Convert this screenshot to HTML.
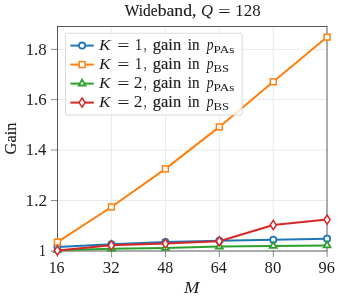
<!DOCTYPE html>
<html><head><meta charset="utf-8"><style>
html,body{margin:0;padding:0;background:#fff;}
body{width:340px;height:298px;overflow:hidden;}
svg{display:block;}
text{font-family:"Liberation Serif",serif;fill:#1c1c1c;}
</style></head><body>
<div style="will-change:transform;width:340px;height:298px;background:#fff">
<svg width="340" height="298" viewBox="0 0 340 298">
<rect width="340" height="298" fill="#fff"/>
<g stroke="#e4e4e4" stroke-width="0.8"><line x1="111.40" y1="26.5" x2="111.40" y2="251.0"/><line x1="165.40" y1="26.5" x2="165.40" y2="251.0"/><line x1="219.35" y1="26.5" x2="219.35" y2="251.0"/><line x1="273.25" y1="26.5" x2="273.25" y2="251.0"/><line x1="57.5" y1="200.50" x2="327.0" y2="200.50"/><line x1="57.5" y1="150.00" x2="327.0" y2="150.00"/><line x1="57.5" y1="99.60" x2="327.0" y2="99.60"/><line x1="57.5" y1="49.35" x2="327.0" y2="49.35"/></g>
<g stroke="#303030" stroke-width="0.55"><line x1="57.40" y1="251.0" x2="57.40" y2="257.0"/><line x1="111.40" y1="251.0" x2="111.40" y2="257.0"/><line x1="165.40" y1="251.0" x2="165.40" y2="257.0"/><line x1="219.35" y1="251.0" x2="219.35" y2="257.0"/><line x1="273.25" y1="251.0" x2="273.25" y2="257.0"/><line x1="327.10" y1="251.0" x2="327.10" y2="257.0"/><line x1="51.0" y1="251.00" x2="57.5" y2="251.00"/><line x1="51.0" y1="200.50" x2="57.5" y2="200.50"/><line x1="51.0" y1="150.00" x2="57.5" y2="150.00"/><line x1="51.0" y1="99.60" x2="57.5" y2="99.60"/><line x1="51.0" y1="49.35" x2="57.5" y2="49.35"/></g>
<rect x="57.5" y="26.5" width="269.5" height="224.5" fill="none" stroke="#303030" stroke-width="0.8"/>
<polyline points="57.40,247.00 111.40,244.20 165.40,242.00 219.35,240.80 273.25,239.80 327.10,238.70" fill="none" stroke="#1f77b4" stroke-width="2.0" stroke-linejoin="round"/>
<circle cx="57.40" cy="247.00" r="3.1" fill="#fff" stroke="#1f77b4" stroke-width="1.8"/>
<circle cx="111.40" cy="244.20" r="3.1" fill="#fff" stroke="#1f77b4" stroke-width="1.8"/>
<circle cx="165.40" cy="242.00" r="3.1" fill="#fff" stroke="#1f77b4" stroke-width="1.8"/>
<circle cx="219.35" cy="240.80" r="3.1" fill="#fff" stroke="#1f77b4" stroke-width="1.8"/>
<circle cx="273.25" cy="239.80" r="3.1" fill="#fff" stroke="#1f77b4" stroke-width="1.8"/>
<circle cx="327.10" cy="238.70" r="3.1" fill="#fff" stroke="#1f77b4" stroke-width="1.8"/>
<polyline points="57.40,242.10 111.40,207.00 165.40,168.90 219.35,126.90 273.25,81.80 327.10,37.10" fill="none" stroke="#ff7f0e" stroke-width="2.0" stroke-linejoin="round"/>
<rect x="54.45" y="239.15" width="5.90" height="5.90" fill="#fff" stroke="#ff7f0e" stroke-width="1.5"/>
<rect x="108.45" y="204.05" width="5.90" height="5.90" fill="#fff" stroke="#ff7f0e" stroke-width="1.5"/>
<rect x="162.45" y="165.95" width="5.90" height="5.90" fill="#fff" stroke="#ff7f0e" stroke-width="1.5"/>
<rect x="216.40" y="123.95" width="5.90" height="5.90" fill="#fff" stroke="#ff7f0e" stroke-width="1.5"/>
<rect x="270.30" y="78.85" width="5.90" height="5.90" fill="#fff" stroke="#ff7f0e" stroke-width="1.5"/>
<rect x="324.15" y="34.15" width="5.90" height="5.90" fill="#fff" stroke="#ff7f0e" stroke-width="1.5"/>
<polyline points="57.40,250.30 111.40,248.80 165.40,247.90 219.35,246.60 273.25,246.00 327.10,245.40" fill="none" stroke="#2ca02c" stroke-width="2.0" stroke-linejoin="round"/>
<path d="M57.40 246.30 L60.80 252.20 L54.00 252.20 Z" fill="#fff" stroke="#2ca02c" stroke-width="1.8" stroke-linejoin="miter"/>
<path d="M111.40 244.80 L114.80 250.70 L108.00 250.70 Z" fill="#fff" stroke="#2ca02c" stroke-width="1.8" stroke-linejoin="miter"/>
<path d="M165.40 243.90 L168.80 249.80 L162.00 249.80 Z" fill="#fff" stroke="#2ca02c" stroke-width="1.8" stroke-linejoin="miter"/>
<path d="M219.35 242.60 L222.75 248.50 L215.95 248.50 Z" fill="#fff" stroke="#2ca02c" stroke-width="1.8" stroke-linejoin="miter"/>
<path d="M273.25 242.00 L276.65 247.90 L269.85 247.90 Z" fill="#fff" stroke="#2ca02c" stroke-width="1.8" stroke-linejoin="miter"/>
<path d="M327.10 241.40 L330.50 247.30 L323.70 247.30 Z" fill="#fff" stroke="#2ca02c" stroke-width="1.8" stroke-linejoin="miter"/>
<polyline points="57.40,250.60 111.40,245.30 165.40,243.60 219.35,241.20 273.25,225.00 327.10,219.60" fill="none" stroke="#d62728" stroke-width="2.0" stroke-linejoin="round"/>
<path d="M57.40 246.00 L60.45 250.60 L57.40 255.20 L54.35 250.60 Z" fill="#fff" stroke="#d62728" stroke-width="1.5" stroke-linejoin="miter"/>
<path d="M111.40 240.70 L114.45 245.30 L111.40 249.90 L108.35 245.30 Z" fill="#fff" stroke="#d62728" stroke-width="1.5" stroke-linejoin="miter"/>
<path d="M165.40 239.00 L168.45 243.60 L165.40 248.20 L162.35 243.60 Z" fill="#fff" stroke="#d62728" stroke-width="1.5" stroke-linejoin="miter"/>
<path d="M219.35 236.60 L222.40 241.20 L219.35 245.80 L216.30 241.20 Z" fill="#fff" stroke="#d62728" stroke-width="1.5" stroke-linejoin="miter"/>
<path d="M273.25 220.40 L276.30 225.00 L273.25 229.60 L270.20 225.00 Z" fill="#fff" stroke="#d62728" stroke-width="1.5" stroke-linejoin="miter"/>
<path d="M327.10 215.00 L330.15 219.60 L327.10 224.20 L324.05 219.60 Z" fill="#fff" stroke="#d62728" stroke-width="1.5" stroke-linejoin="miter"/>
<rect x="65.5" y="33.3" width="176.6" height="81.7" rx="1.5" fill="#fff" fill-opacity="0.8" stroke="#cfcfcf" stroke-width="0.8"/>
<line x1="70.4" y1="45.6" x2="93.8" y2="45.6" stroke="#1f77b4" stroke-width="2.0"/>
<circle cx="82.10" cy="45.60" r="3.1" fill="#fff" stroke="#1f77b4" stroke-width="1.8"/>
<line x1="70.4" y1="64.6" x2="93.8" y2="64.6" stroke="#ff7f0e" stroke-width="2.0"/>
<rect x="79.15" y="61.65" width="5.90" height="5.90" fill="#fff" stroke="#ff7f0e" stroke-width="1.5"/>
<line x1="70.4" y1="83.6" x2="93.8" y2="83.6" stroke="#2ca02c" stroke-width="2.0"/>
<path d="M82.10 79.60 L85.50 85.50 L78.70 85.50 Z" fill="#fff" stroke="#2ca02c" stroke-width="1.8" stroke-linejoin="miter"/>
<line x1="70.4" y1="102.6" x2="93.8" y2="102.6" stroke="#d62728" stroke-width="2.0"/>
<path d="M82.10 98.00 L85.15 102.60 L82.10 107.20 L79.05 102.60 Z" fill="#fff" stroke="#d62728" stroke-width="1.5" stroke-linejoin="miter"/>
<text transform="translate(124.80,15.95) scale(0.9641,1)" font-size="16" fill="#000" stroke="#000" stroke-width="0.12">Wide</text>
<text transform="translate(157.65,15.95) scale(1.1041,1)" font-size="16" fill="#000" stroke="#000" stroke-width="0.12">band,</text>
<text transform="translate(200.92,15.95) scale(0.9818,1)" font-size="16.9" font-style="italic">Q</text>
<text transform="translate(218.27,16.85) scale(1.2911,1)" font-size="16.9">=</text>
<text transform="translate(235.31,15.95) scale(0.9957,1)" font-size="16.9">128</text>
<text transform="translate(99.12,50.40) scale(1.1161,1)" font-size="15.5" font-style="italic">K</text>
<text transform="translate(117.29,50.90) scale(1.3836,1)" font-size="15.7">=</text>
<text transform="translate(134.93,50.40) scale(0.9091,1)" font-size="15.7">1</text>
<text transform="translate(143.86,50.40) scale(0.7391,1)" font-size="15.7">,</text>
<text transform="translate(152.87,50.40) scale(1.0460,1)" font-size="15.7" fill="#000" stroke="#000" stroke-width="0.12">gain</text>
<text transform="translate(187.71,50.40) scale(0.9573,1)" font-size="15.7" fill="#000" stroke="#000" stroke-width="0.12">in</text>
<text transform="translate(206.68,50.40) scale(0.8675,1)" font-size="15.7" font-style="italic">p</text>
<text transform="translate(213.55,52.80) scale(1.1696,1)" font-size="11.3">PAs</text>
<text transform="translate(99.12,69.40) scale(1.1161,1)" font-size="15.5" font-style="italic">K</text>
<text transform="translate(117.29,69.90) scale(1.3836,1)" font-size="15.7">=</text>
<text transform="translate(134.93,69.40) scale(0.9091,1)" font-size="15.7">1</text>
<text transform="translate(143.86,69.40) scale(0.7391,1)" font-size="15.7">,</text>
<text transform="translate(152.87,69.40) scale(1.0460,1)" font-size="15.7" fill="#000" stroke="#000" stroke-width="0.12">gain</text>
<text transform="translate(187.71,69.40) scale(0.9573,1)" font-size="15.7" fill="#000" stroke="#000" stroke-width="0.12">in</text>
<text transform="translate(206.68,69.40) scale(0.8675,1)" font-size="15.7" font-style="italic">p</text>
<text transform="translate(213.56,71.80) scale(1.1250,1)" font-size="11.3">BS</text>
<text transform="translate(99.12,88.40) scale(1.1161,1)" font-size="15.5" font-style="italic">K</text>
<text transform="translate(117.29,88.90) scale(1.3836,1)" font-size="15.7">=</text>
<text transform="translate(133.72,88.40) scale(1.1111,1)" font-size="15.7">2</text>
<text transform="translate(143.86,88.40) scale(0.7391,1)" font-size="15.7">,</text>
<text transform="translate(152.87,88.40) scale(1.0460,1)" font-size="15.7" fill="#000" stroke="#000" stroke-width="0.12">gain</text>
<text transform="translate(187.71,88.40) scale(0.9573,1)" font-size="15.7" fill="#000" stroke="#000" stroke-width="0.12">in</text>
<text transform="translate(206.68,88.40) scale(0.8675,1)" font-size="15.7" font-style="italic">p</text>
<text transform="translate(213.55,90.80) scale(1.1696,1)" font-size="11.3">PAs</text>
<text transform="translate(99.12,107.40) scale(1.1161,1)" font-size="15.5" font-style="italic">K</text>
<text transform="translate(117.29,107.90) scale(1.3836,1)" font-size="15.7">=</text>
<text transform="translate(133.72,107.40) scale(1.1111,1)" font-size="15.7">2</text>
<text transform="translate(143.86,107.40) scale(0.7391,1)" font-size="15.7">,</text>
<text transform="translate(152.87,107.40) scale(1.0460,1)" font-size="15.7" fill="#000" stroke="#000" stroke-width="0.12">gain</text>
<text transform="translate(187.71,107.40) scale(0.9573,1)" font-size="15.7" fill="#000" stroke="#000" stroke-width="0.12">in</text>
<text transform="translate(206.68,107.40) scale(0.8675,1)" font-size="15.7" font-style="italic">p</text>
<text transform="translate(213.56,109.80) scale(1.1250,1)" font-size="11.3">BS</text>
<text transform="translate(38.91,256.30) scale(0.7903,1)" font-size="17.4">1</text>
<text transform="translate(25.62,205.70) scale(0.9896,1)" font-size="17.4">1.2</text>
<text transform="translate(25.67,155.20) scale(0.9550,1)" font-size="17.4">1.4</text>
<text transform="translate(25.65,104.80) scale(0.9695,1)" font-size="17.4">1.6</text>
<text transform="translate(25.64,54.55) scale(0.9745,1)" font-size="17.4">1.8</text>
<text transform="translate(48.64,272.85) scale(0.9038,1)" font-size="17.6">16</text>
<text transform="translate(102.68,272.85) scale(0.9620,1)" font-size="17.6">32</text>
<text transform="translate(157.28,272.85) scale(0.9036,1)" font-size="17.6">48</text>
<text transform="translate(210.77,272.85) scale(0.9091,1)" font-size="17.6">64</text>
<text transform="translate(264.53,272.85) scale(0.9506,1)" font-size="17.6">80</text>
<text transform="translate(318.54,272.85) scale(0.9273,1)" font-size="17.6">96</text>
<text transform="translate(183.92,293.30) scale(1.1149,1)" font-size="16.6" font-style="italic">M</text>
<text transform="translate(16.1,154.40) rotate(-90) scale(1.0000,1)" font-size="16.4" fill="#000" stroke="#000" stroke-width="0.12">Gain</text>
</svg></div></body></html>
